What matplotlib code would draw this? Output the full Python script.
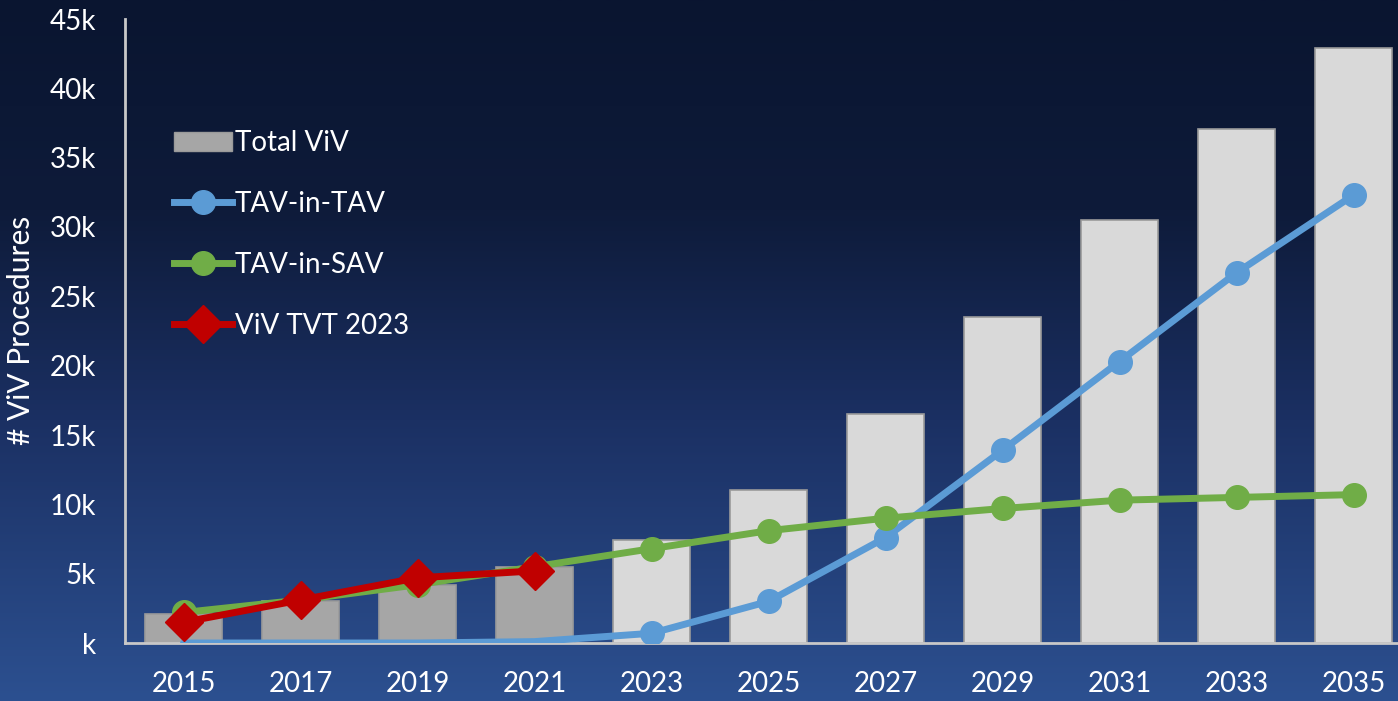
import numpy as np
import matplotlib.pyplot as plt
from matplotlib.colors import LinearSegmentedColormap
from matplotlib.lines import Line2D
from matplotlib.patches import Patch
from matplotlib.ticker import FuncFormatter

plt.rcParams['font.family'] = ['Lato', 'DejaVu Sans']

# Data (values in procedures)
years = ['2015', '2017', '2019', '2021', '2023', '2025', '2027', '2029', '2031', '2033', '2035']
total_viv = [2100, 3000, 4200, 5500, 7400, 11000, 16500, 23500, 30500, 37100, 42900]
tav_in_tav = [0, 0, 0, 100, 700, 3000, 7600, 13900, 20300, 26700, 32300]
tav_in_sav = [2200, 3100, 4200, 5500, 6800, 8100, 9000, 9700, 10300, 10500, 10700]
viv_tvt_2023 = [1500, 3100, 4700, 5200]
n_actual = 4  # bars drawn darker (observed years)

x = np.arange(len(years))

fig = plt.figure(figsize=(13.98, 7.01), dpi=100)

# gradient background
bg = fig.add_axes([0, 0, 1, 1], zorder=-10)
cmap = LinearSegmentedColormap.from_list(
    'bg', [(0.0, '#0a1530'), (0.3, '#0e1b3a'), (0.6, '#1b3063'), (1.0, '#2c5090')])
grad = np.linspace(0, 1, 256).reshape(-1, 1)
bg.imshow(grad, aspect='auto', cmap=cmap, extent=[0, 1, 1, 0])
bg.axis('off')

ax = fig.add_axes([125 / 1398, 1 - 643 / 701, 1 - 125 / 1398, (643 - 19) / 701])
ax.patch.set_alpha(0)

bar_colors = ['#a6a6a6'] * n_actual + ['#d9d9d9'] * (len(years) - n_actual)
ax.bar(x, total_viv, width=0.66, color=bar_colors, edgecolor='#9a9a9a', linewidth=1.2, zorder=2)

ax.plot(x, tav_in_tav, color='#5b9bd5', lw=5, marker='o', ms=17, zorder=3,
        markevery=list(range(4, len(years))), solid_capstyle='round')
ax.plot(x, tav_in_sav, color='#70ad47', lw=5, marker='o', ms=17, zorder=4)
ax.plot(x[:len(viv_tvt_2023)], viv_tvt_2023, color='#c00000', lw=5, marker='D', ms=19, zorder=5)

ax.set_xlim(-0.5, (1398 - 125) / 117 - 0.5)
ax.set_ylim(0, 45000)
ax.set_yticks(np.arange(0, 45001, 5000))
ax.yaxis.set_major_formatter(FuncFormatter(lambda v, p: f"{int(v / 1000)}k" if v else "k"))
ax.set_xticks(x)
ax.set_xticklabels(years)
ax.tick_params(axis='both', length=0, labelsize=20, labelcolor='white')
ax.tick_params(axis='y', pad=21)
ax.tick_params(axis='x', pad=20)

for side in ['top', 'right']:
    ax.spines[side].set_visible(False)
for side in ['left', 'bottom']:
    ax.spines[side].set_color('#c8c8c8')
    ax.spines[side].set_linewidth(2)

fig.text(21 / 1398, 1 - 330 / 701, '# ViV Procedures', rotation=90, ha='center', va='center',
         color='white', fontsize=21.5)

handles = [
    Patch(facecolor='#a6a6a6', edgecolor='#9a9a9a'),
    Line2D([], [], color='#5b9bd5', lw=5, marker='o', ms=17),
    Line2D([], [], color='#70ad47', lw=5, marker='o', ms=17),
    Line2D([], [], color='#c00000', lw=5, marker='D', ms=19),
]
labels = ['Total ViV', 'TAV-in-TAV', 'TAV-in-SAV', 'ViV TVT 2023']
leg = fig.legend(handles, labels, loc='upper left', bbox_to_anchor=(174 / 1398, 1 - 130 / 701),
                 frameon=False, fontsize=20, labelcolor='white', handlelength=2.1,
                 handletextpad=0.1, labelspacing=1.26, borderpad=0, borderaxespad=0)

fig.savefig('out.png', dpi=100)
